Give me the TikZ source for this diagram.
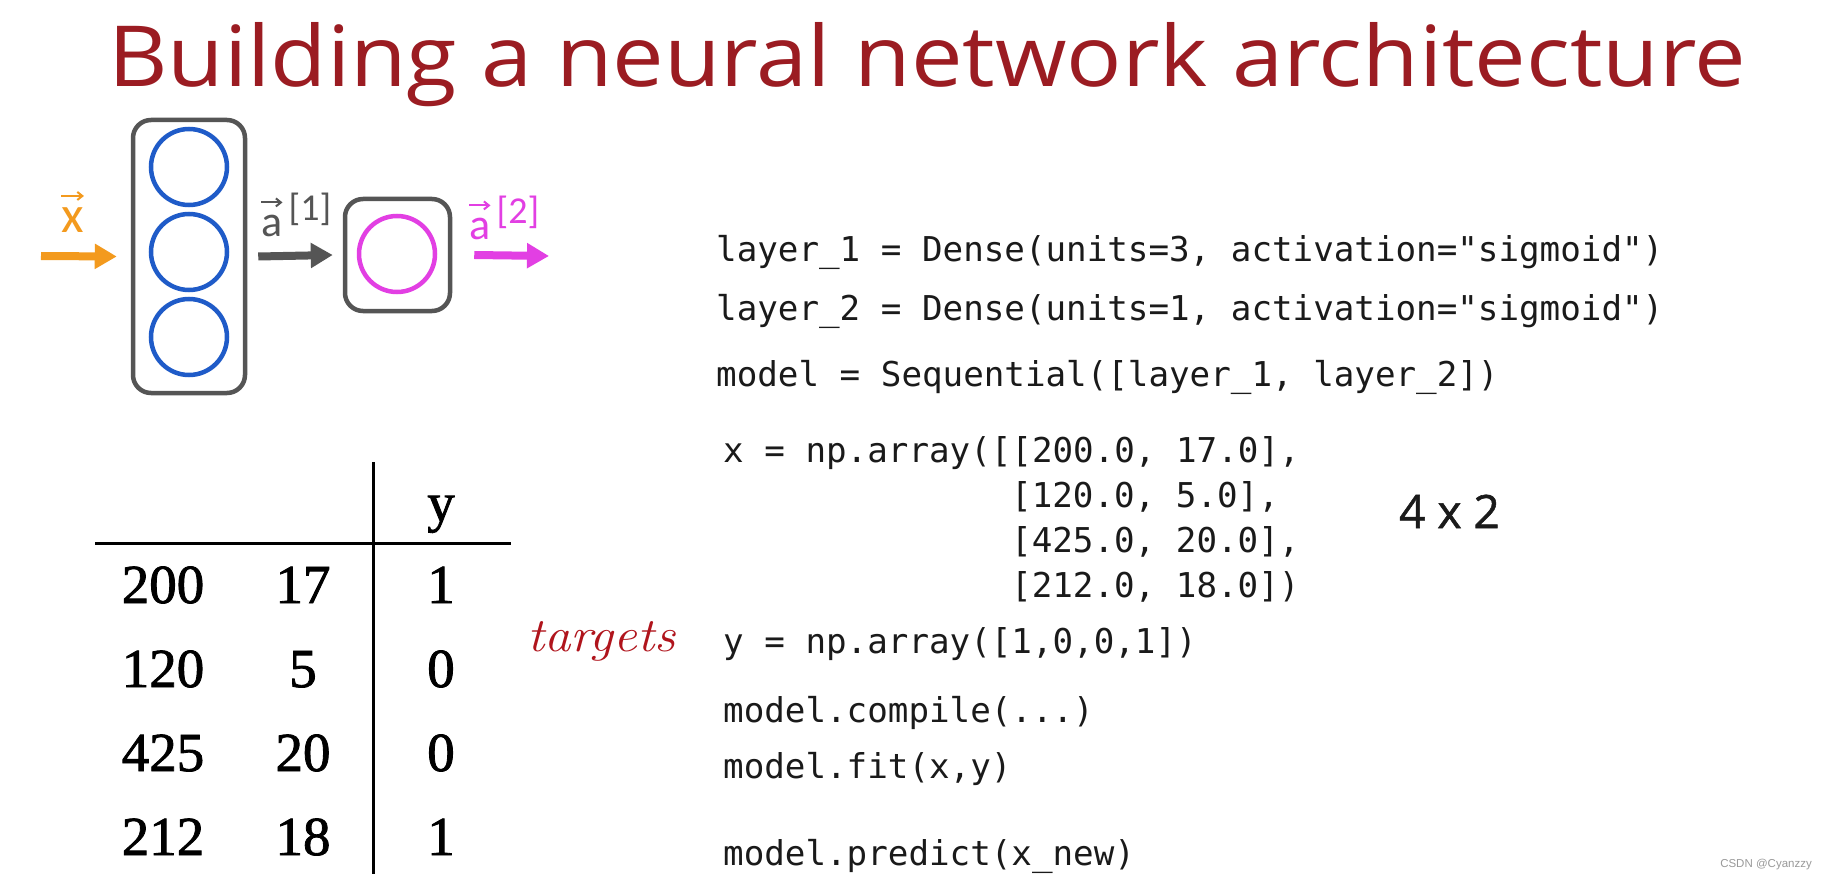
\documentclass[tikz,border=0pt]{standalone}
\usepackage{fontspec}
\usepackage{graphicx}
\usetikzlibrary{arrows.meta}
\newfontfamily\titlefont{Open Sans}
\newfontfamily\dimfont[FakeBold=1.2]{Open Sans}
\newfontfamily\codefont{DejaVu Sans Mono}
\newfontfamily\labfont{Carlito}
\newfontfamily\tabfont[FakeBold=1.5]{Liberation Serif}
\newfontfamily\wmfont{Liberation Sans}
\definecolor{titlered}{HTML}{9B1C22}
\definecolor{boxgray}{HTML}{555555}
\definecolor{nblue}{HTML}{1F5BC8}
\definecolor{nmag}{HTML}{E23FE3}
\definecolor{xorange}{HTML}{F39A1E}
\definecolor{handred}{HTML}{B0141C}
\definecolor{codeblack}{HTML}{1A1A1A}
\definecolor{wmgray}{HTML}{999999}
\tikzset{
  layerbox/.style={draw=boxgray, line width=4.5pt, rounded corners=18pt, inner sep=0pt},
  neuron/.style={circle, line width=4.5pt, minimum size=76pt, inner sep=0pt},
  fatarrow/.style={line width=8pt, -{Triangle[length=22pt,width=24pt]}},
  vecarr/.style={line width=2pt, -{Straight Barb[length=5pt,width=8pt]}},
  codeline/.style={anchor=base west, inner sep=0pt, text=codeblack, font=\codefont\fontsize{34.2}{40}\selectfont},
  tabcell/.style={anchor=base, inner sep=0pt, font=\tabfont\fontsize{55}{60}\selectfont},
  lab/.style={anchor=base west, inner sep=0pt, font=\labfont\fontsize{44}{48}\selectfont},
  suplab/.style={anchor=base west, inner sep=0pt, font=\labfont\fontsize{38}{40}\selectfont},
  tabline/.style={line width=3pt, draw=black}
}
\begin{document}
\begin{tikzpicture}[x=1pt,y=-1pt]
\useasboundingbox[fill=white] (0,0) rectangle (1828,877);

% title
\node[anchor=base west, inner sep=0pt, text=titlered] (title) at (108,87)
  {\resizebox{1637pt}{64pt}{\titlefont Building a neural network architecture}};

% network
\node[layerbox, minimum width=112pt, minimum height=273pt] (L1) at (189,256.5) {};
\node[neuron, draw=nblue] (n1) at (189,167) {};
\node[neuron, draw=nblue] (n2) at (189,252) {};
\node[neuron, draw=nblue] (n3) at (189,337) {};
\node[layerbox, minimum width=105pt, minimum height=112pt] (L2) at (397.5,255) {};
\node[neuron, draw=nmag] (n4) at (397,254) {};

\coordinate (xin) at (41,256);
\coordinate (aout) at (549,256);
\draw[fatarrow, draw=xorange, fill=xorange] (xin) -- ([xshift=-14pt]L1.west);
\draw[fatarrow, draw=boxgray, fill=boxgray] ([xshift=11pt]L1.east) -- ([xshift=-10pt]L2.west);
\draw[fatarrow, draw=nmag, fill=nmag] ([xshift=22pt]L2.east) -- (aout);

% labels
\node[lab, text=xorange, font=\labfont\fontsize{52}{54}\selectfont] (xl) at (61,233) {x};
\draw[vecarr, draw=xorange] ([yshift=12pt]xl.north west) -- ([yshift=12pt]xl.north east);

\node[lab, text=boxgray] (a1) at (261,237) {a};
\node[suplab, text=boxgray] (a1s) at ([xshift=6pt,yshift=16pt]a1.base east) {[1]};
\draw[vecarr, draw=boxgray] ([yshift=13pt]a1.north west) -- ([yshift=13pt]a1.north east);

\node[lab, text=nmag] (a2) at (469,240) {a};
\node[suplab, text=nmag] (a2s) at ([xshift=6pt,yshift=16pt]a2.base east) {[2]};
\draw[vecarr, draw=nmag] ([yshift=13pt]a2.north west) -- ([yshift=13pt]a2.north east);

% table
\coordinate (vt) at (373,462);
\coordinate (vb) at (373,874);
\coordinate (hl) at (95,543);
\coordinate (hr) at (511,543);
\draw[tabline] (vt) -- (vb);
\draw[tabline] (hl) -- (hr);
\node[tabcell] (hy) at (441,521) {y};
\node[tabcell] (c11) at (163,603) {200};
\node[tabcell] (c12) at (303,603) {17};
\node[tabcell] (c13) at (441,603) {1};
\node[tabcell] (c21) at (163,687) {120};
\node[tabcell] (c22) at (303,687) {5};
\node[tabcell] (c23) at (441,687) {0};
\node[tabcell] (c31) at (163,771) {425};
\node[tabcell] (c32) at (303,771) {20};
\node[tabcell] (c33) at (441,771) {0};
\node[tabcell] (c41) at (163,855) {212};
\node[tabcell] (c42) at (303,855) {18};
\node[tabcell] (c43) at (441,855) {1};

% code
\node[codeline] (k1) at (716,262) {layer\_1 = Dense(units=3, activation="sigmoid")};
\node[codeline] (k2) at (716,320) {layer\_2 = Dense(units=1, activation="sigmoid")};
\node[codeline] (k3) at (716,386) {model = Sequential([layer\_1, layer\_2])};
\node[codeline] (k4) at (723,462) {x = np.array([[200.0, 17.0],};
\node[codeline] (k5) at (1011,507) {[120.0, 5.0],};
\node[codeline] (k6) at (1011,552) {[425.0, 20.0],};
\node[codeline] (k7) at (1011,597) {[212.0, 18.0])};
\node[codeline] (k8) at (723,653) {y = np.array([1,0,0,1])};
\node[codeline] (k9) at (723,722) {model.compile(...)};
\node[codeline] (k10) at (723,778) {model.fit(x,y)};
\node[codeline] (k11) at (723,865) {model.predict(x\_new)};

\node[anchor=base west, inner sep=0pt, text=codeblack, font=\dimfont\fontsize{46}{50}\selectfont] (dim) at (1399,528) {4 x 2};

\node[anchor=base west, inner sep=0pt, text=handred, font=\itshape\fontsize{48}{50}\selectfont] (tg) at (527,651) {\scalebox{1.1}[1]{targets}};

\node[anchor=base east, inner sep=0pt, text=wmgray, font=\wmfont\fontsize{11.5}{12}\selectfont] (wm) at (1812,867) {CSDN @Cyanzzy};
\end{tikzpicture}
\end{document}
